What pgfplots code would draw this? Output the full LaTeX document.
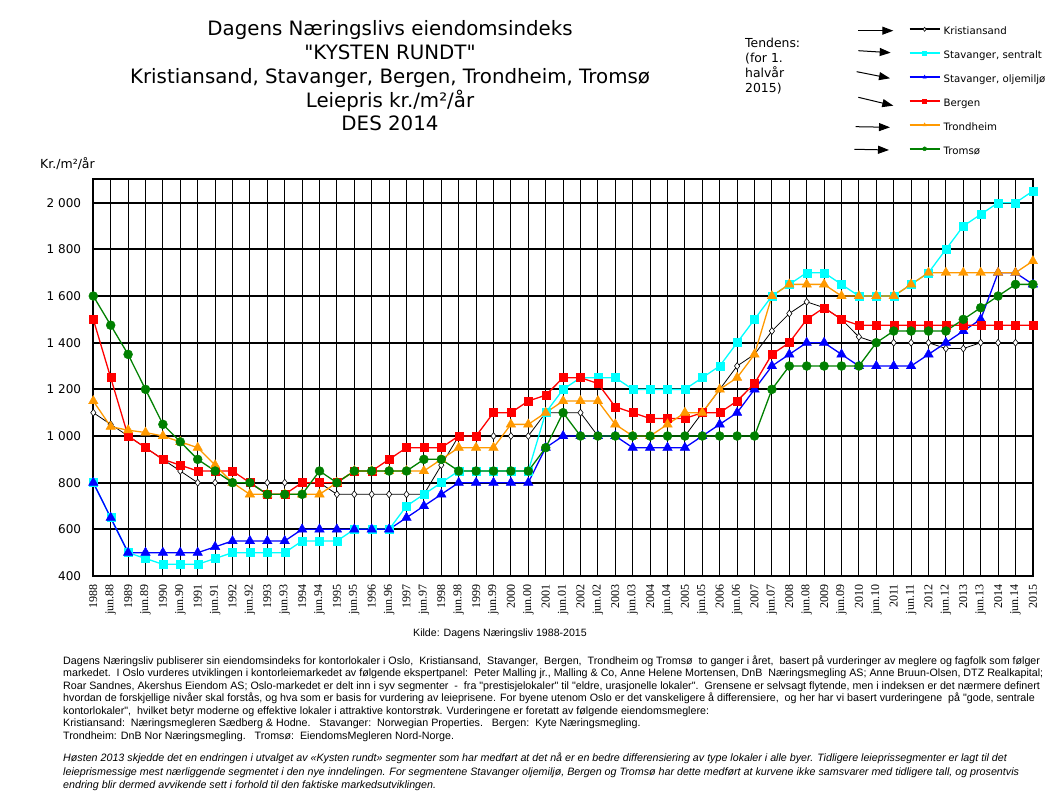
\documentclass[border=0pt]{standalone}
\usepackage{fontspec}
\setmainfont{DejaVu Sans}
\newfontfamily\dvs{DejaVu Sans}
\newfontfamily\arialf{Liberation Sans}
\newfontfamily\timesf{Liberation Serif}
\usepackage{pgfplots}
\pgfplotsset{compat=1.18}
\usepackage{pgfplotstable}
\usetikzlibrary{arrows.meta}
\definecolor{cCyan}{RGB}{0,255,255}
\definecolor{cBlue}{RGB}{0,0,255}
\definecolor{cRed}{RGB}{255,0,0}
\definecolor{cOrange}{RGB}{255,153,0}
\definecolor{cGreen}{RGB}{0,128,0}
\pgfplotstableread{
x K S O B T R
0 1100 800 800 1500 1150 1600
1 1050 650 650 1250 1040 1475
2 1000 500 500 1000 1025 1350
3 950 475 500 950 1015 1200
4 900 450 500 900 1000 1050
5 850 450 500 875 975 975
6 800 450 500 850 950 900
7 800 475 525 850 875 850
8 800 500 550 850 800 800
9 800 500 550 800 750 800
10 800 500 550 750 750 750
11 800 500 550 750 750 750
12 800 550 600 800 750 750
13 800 550 600 800 750 850
14 750 550 600 800 800 800
15 750 600 600 850 850 850
16 750 600 600 850 850 850
17 750 600 600 900 850 850
18 750 700 650 950 850 850
19 750 750 700 950 850 900
20 875 800 750 950 900 900
21 1000 850 800 1000 950 850
22 1000 850 800 1000 950 850
23 1000 850 800 1100 950 850
24 1000 850 800 1100 1050 850
25 1000 850 800 1150 1050 850
26 1100 1100 950 1175 1100 950
27 1100 1200 1000 1250 1150 1100
28 1100 1250 1000 1250 1150 1000
29 1000 1250 1000 1225 1150 1000
30 1000 1250 1000 1125 1050 1000
31 1000 1200 950 1100 1000 1000
32 1000 1200 950 1075 1000 1000
33 1000 1200 950 1075 1050 1000
34 1000 1200 950 1075 1100 1000
35 1100 1250 1000 1100 1100 1000
36 1200 1300 1050 1100 1200 1000
37 1300 1400 1100 1150 1250 1000
38 1350 1500 1200 1225 1350 1000
39 1450 1600 1300 1350 1600 1200
40 1525 1650 1350 1400 1650 1300
41 1575 1700 1400 1500 1650 1300
42 1550 1700 1400 1550 1650 1300
43 1500 1650 1350 1500 1600 1300
44 1425 1600 1300 1475 1600 1300
45 1400 1600 1300 1475 1600 1400
46 1400 1600 1300 1475 1600 1450
47 1400 1650 1300 1475 1650 1450
48 1400 1700 1350 1475 1700 1450
49 1375 1800 1400 1475 1700 1450
50 1375 1900 1450 1475 1700 1500
51 1400 1950 1500 1475 1700 1550
52 1400 2000 1700 1475 1700 1600
53 1400 2000 1700 1475 1700 1650
54 nan 2050 1650 1475 1750 1650
}\datatable
\begin{document}
\begin{tikzpicture}
\path[use as bounding box] (0pt,0pt) rectangle (1055pt,808pt);
\begin{axis}[
  at={(93.3pt,232pt)}, anchor=south west,
  scale only axis, width=939.6pt, height=396.6pt,
  xmin=0, xmax=54, ymin=400, ymax=2100,
  xtick={0,...,54},
  xticklabels={1988,jun.88,1989,jun.89,1990,jun.90,1991,jun.91,1992,jun.92,1993,jun.93,1994,jun.94,1995,jun.95,1996,jun.96,1997,jun.97,1998,jun.98,1999,jun.99,2000,jun.00,2001,jun.01,2002,jun.02,2003,jun.03,2004,jun.04,2005,jun.05,2006,jun.06,2007,jun.07,2008,jun.08,2009,jun.09,2010,jun.10,2011,jun.11,2012,jun.12,2013,jun.13,2014,jun.14,2015},
  ytick={400,600,800,1000,1200,1400,1600,1800,2000},
  yticklabels={400,600,800,1 000,1 200,1 400,1 600,1 800,2 000},
  major tick length=0pt,
  xmajorgrids, ymajorgrids,
  x grid style={black, line width=1pt},
  y grid style={black, line width=1.8pt},
  axis line style={black, line width=2.2pt},
  xticklabel style={font=\timesf\fontsize{12}{12}\selectfont, rotate=90, anchor=east, inner sep=0pt},
  xticklabel shift=8pt,
  yticklabel style={font=\fontsize{12}{12}\selectfont, anchor=east, inner sep=0pt},
  yticklabel shift=12pt,
  clip=false,
  legend cell align=left,
  legend style={at={(axis description cs:0.8674,1.384)}, anchor=north west, draw=none, fill=none,
    font=\fontsize{10.2}{12}\selectfont, row sep=13.9pt, column sep=3pt, inner sep=0pt,
    nodes={inner sep=0pt, text height=7.6pt, text depth=2.4pt}},
  legend image code/.code={
    \draw[#1, mark=none, line width=2.2pt] (0pt,3pt) -- (30pt,3pt);
    \draw[#1, only marks, mark size=2pt] plot coordinates {(15pt,3pt)};
  },
]
\addplot[black, line width=0.8pt, mark=diamond*, mark size=3.5pt, mark options={fill=white, line width=0.6pt}] table[x=x,y=K]{\datatable};
\addlegendentry{Kristiansand}
\addplot[cCyan, line width=1.3pt, mark=square*, mark size=4pt, mark options={line width=0.4pt}] table[x=x,y=S]{\datatable};
\addlegendentry{Stavanger, sentralt}
\addplot[cBlue, line width=1.3pt, mark=triangle*, mark size=5.5pt, mark options={line width=0.4pt}] table[x=x,y=O]{\datatable};
\addlegendentry{Stavanger, oljemiljø}
\addplot[cRed, line width=1.3pt, mark=square*, mark size=4pt, mark options={line width=0.4pt}] table[x=x,y=B]{\datatable};
\addlegendentry{Bergen}
\addplot[cOrange, line width=1.3pt, mark=triangle*, mark size=5.5pt, mark options={line width=0.4pt}] table[x=x,y=T]{\datatable};
\addlegendentry{Trondheim}
\addplot[cGreen, line width=1.3pt, mark=*, mark size=4.5pt, mark options={line width=0.4pt}] table[x=x,y=R]{\datatable};
\addlegendentry{Tromsø}
\end{axis}
% Title
\begin{scope}[every node/.style={font=\dvs\fontsize{19.8}{22}\selectfont, anchor=base, inner sep=0pt}]
\node at (390pt,772pt) {Dagens Næringslivs eiendomsindeks};
\node at (390pt,748pt) {"KYSTEN RUNDT"};
\node at (390pt,724pt) {Kristiansand, Stavanger, Bergen, Trondheim, Tromsø};
\node at (390pt,700pt) {Leiepris kr./m²/år};
\node at (390pt,677.3pt) {DES 2014};
\end{scope}
% y label
\node[font=\fontsize{12.5}{14}\selectfont, anchor=west, inner sep=0pt] at (40pt,644.7pt) {Kr./m²/år};
% Tendens
\begin{scope}[every node/.style={font=\fontsize{12.4}{14}\selectfont, anchor=base west, inner sep=0pt}]
\node at (745pt,760.5pt) {Tendens:};
\node at (745pt,745.5pt) {(for 1.};
\node at (745pt,730.5pt) {halvår};
\node at (745pt,715.5pt) {2015)};
\end{scope}
\begin{scope}[line width=1pt, -{Triangle[length=11pt,width=8pt]}]
\draw (858.3pt,777.3pt) -- (893.3pt,777.3pt);
\draw (858.3pt,757.3pt) -- (890.7pt,755.3pt);
\draw (856.7pt,736.3pt) -- (890pt,729.7pt);
\draw (858.3pt,710.7pt) -- (893.3pt,702.3pt);
\draw (855.7pt,681.3pt) -- (890pt,680.7pt);
\draw (854.3pt,658.7pt) -- (889pt,658pt);
\end{scope}
% Footer
\node[font=\arialf\fontsize{10.6}{12}\selectfont, anchor=base, inner sep=0pt] at (500pt,171pt) {Kilde: Dagens Næringsliv 1988-2015};
\begin{scope}[every node/.style={font=\arialf\fontsize{10.7}{12}\selectfont, anchor=base west, inner sep=0pt}]
\node at (63pt,143.5pt) {Dagens Næringsliv publiserer sin eiendomsindeks for kontorlokaler i Oslo,\ \ Kristiansand,\ \ Stavanger,\ \ Bergen,\ \ Trondheim og Tromsø\ \ to ganger i året,\ \ basert på vurderinger av meglere og fagfolk som følger};
\node at (63pt,131pt) {markedet.\ \ I Oslo vurderes utviklingen i kontorleiemarkedet av følgende ekspertpanel:\ \ Peter Malling jr., Malling \& Co, Anne Helene Mortensen, DnB\ \ Næringsmegling AS; Anne Bruun-Olsen, DTZ Realkapital;};
\node at (63pt,118.5pt) {Roar Sandnes, Akershus Eiendom AS; Oslo-markedet er delt inn i syv segmenter\ \ -\ \ fra "prestisjelokaler" til "eldre, urasjonelle lokaler".\ \ Grensene er selvsagt flytende, men i indeksen er det nærmere definert};
\node at (63pt,106pt) {hvordan de forskjellige nivåer skal forstås, og hva som er basis for vurdering av leieprisene. For byene utenom Oslo er det vanskeligere å differensiere,\ \ og her har vi basert vurderingene\ \ på "gode, sentrale};
\node at (63pt,93.5pt) {kontorlokaler",\ \ hvilket betyr moderne og effektive lokaler i attraktive kontorstrøk. Vurderingene er foretatt av følgende eiendomsmeglere:};
\node at (63pt,81pt) {Kristiansand:\ \ Næringsmegleren Sædberg \& Hodne.\ \ \ Stavanger:\ \ Norwegian Properties.\ \ \ Bergen:\ \ Kyte Næringsmegling.};
\node at (63pt,68.5pt) {Trondheim: DnB Nor Næringsmegling.\ \ \ Tromsø:\ \ EiendomsMegleren Nord-Norge.};
\node[font=\arialf\itshape\fontsize{10.7}{12}\selectfont] at (63pt,46pt) {Høsten 2013 skjedde det en endringen i utvalget av «Kysten rundt» segmenter som har medført at det nå er en bedre differensiering av type lokaler i alle byer. Tidligere leieprissegmenter er lagt til det};
\node[font=\arialf\itshape\fontsize{10.7}{12}\selectfont] at (63pt,32.7pt) {leieprismessige mest nærliggende segmentet i den nye inndelingen. For segmentene Stavanger oljemiljø, Bergen og Tromsø har dette medført at kurvene ikke samsvarer med tidligere tall, og prosentvis};
\node[font=\arialf\itshape\fontsize{10.7}{12}\selectfont] at (63pt,19.5pt) {endring blir dermed avvikende sett i forhold til den faktiske markedsutviklingen.};
\end{scope}
\end{tikzpicture}
\end{document}
